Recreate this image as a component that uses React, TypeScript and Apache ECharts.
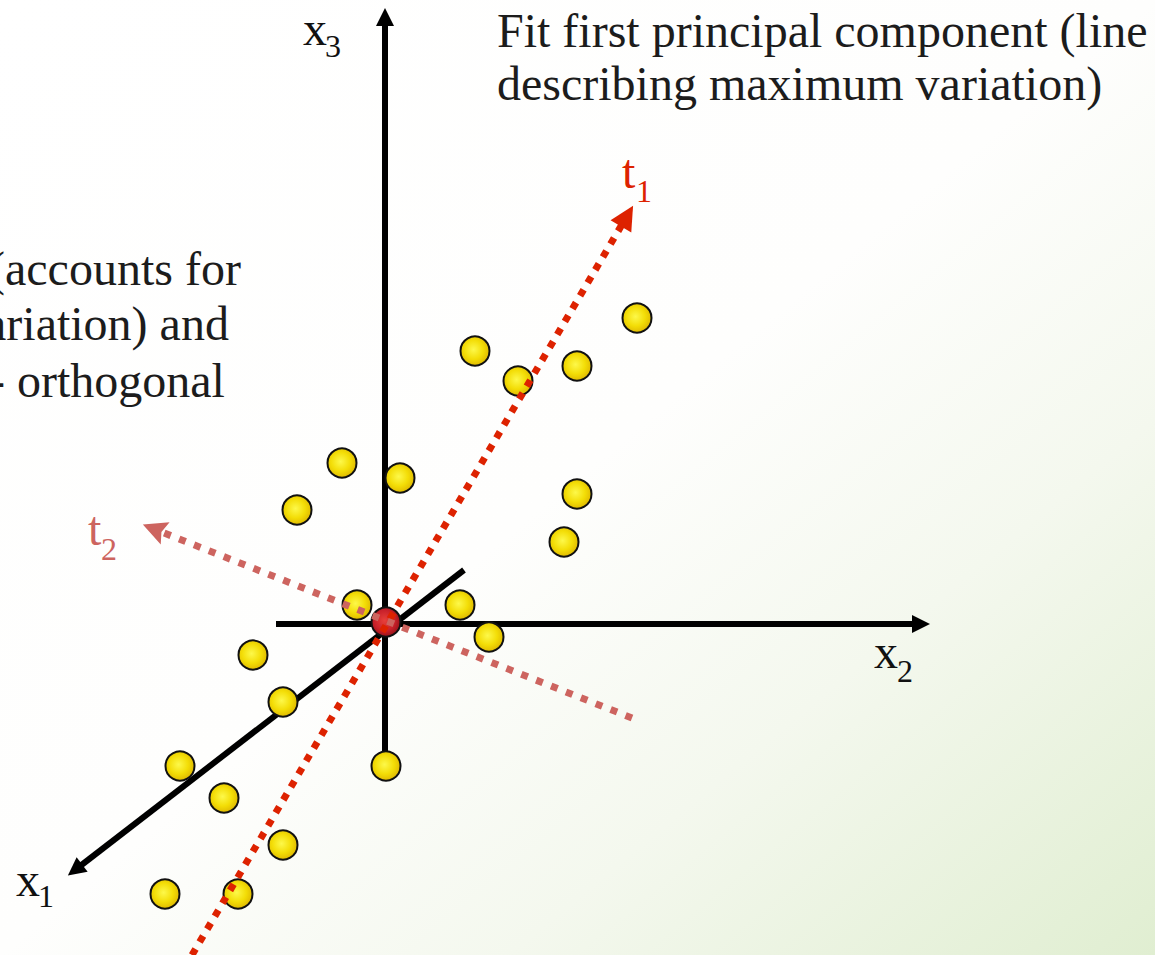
import React, { useEffect, useRef } from "react";
import * as echarts from "echarts";

const W = 1155;
const H = 955;

// observations (diagram coordinates, y grows downward)
const pointsX = [637, 475, 577, 518, 342, 400, 297, 577, 564, 357, 460, 489, 253, 283, 180, 386, 224, 283, 165, 238];
const pointsY = [318, 351, 366, 381, 463, 478, 510, 494, 542, 605, 605, 637, 655, 702, 766, 766, 798, 845, 894, 894];
const centreX = [386];
const centreY = [622];

// original variable axes (x1, x2, x3)
const axisNames = ["x1", "x2", "x3"];
const axisStart = [[464, 570], [276, 624], [385, 760]];
const axisEnd = [[75, 870], [921, 624], [385, 17]];

// principal components (t1, t2)
const pcNames = ["t1", "t2"];
const pcStart = [[192, 955], [632, 718]];
const pcEnd = [[627, 216], [154, 529]];

// texts
const titleLines = ["Fit first principal component (line", "describing maximum variation)"];
const sideLines = ["(accounts for", "variation) and", "- orthogonal"];
const axisLabelMain = ["x", "x", "x"];
const axisLabelSub = ["1", "2", "3"];
const pcLabelMain = ["t", "t"];
const pcLabelSub = ["1", "2"];

const FONT = "'Liberation Serif','Times New Roman',Times,serif";
const CENTRAL = 0.3375;

function txt(text: string, x: number, baseline: number, size: number, fill: string) {
  return {
    type: "text",
    x,
    y: baseline - size * CENTRAL,
    silent: true,
    z: 100,
    style: {
      text,
      fill,
      fontSize: size,
      fontFamily: FONT,
      align: "left",
      verticalAlign: "middle",
    },
  };
}

export default function App() {
  const ref = useRef<HTMLDivElement>(null);

  useEffect(() => {
    if (!ref.current) return;
    const chart = echarts.init(ref.current, null, { renderer: "svg" });

    const yellow = new echarts.graphic.RadialGradient(0.45, 0.45, 0.6, [
      { offset: 0, color: "#fdf84a" },
      { offset: 0.55, color: "#f3dd06" },
      { offset: 1, color: "#dcb300" },
    ]);
    const red = new echarts.graphic.RadialGradient(0.45, 0.45, 0.6, [
      { offset: 0, color: "#e8403a" },
      { offset: 0.6, color: "#c8202a" },
      { offset: 1, color: "#8e1016" },
    ]);
    const bg = new echarts.graphic.LinearGradient(0, 0, 1, 1, [
      { offset: 0, color: "#ffffff" },
      { offset: 0.5, color: "#fefefd" },
      { offset: 0.72, color: "#f4f8ee" },
      { offset: 1, color: "#e0eed1" },
    ]);

    const axisLabelPos = [
      [16, 896, 38, 907],
      [874, 668, 897, 682],
      [303, 45, 325, 57],
    ];
    const pcLabelPos = [
      [622, 188, 636, 202],
      [88, 545, 101, 560],
    ];
    const pcColors = ["#dd2200", "#cd645f"];

    const graphics: any[] = [
      {
        type: "rect",
        z: -100,
        silent: true,
        shape: { x: 0, y: 0, width: W, height: H },
        style: { fill: bg },
      },
      ...titleLines.map((t, i) => txt(t, 497, 47 + i * 53, 48, "#1c1c1c")),
      txt(sideLines[0], -11, 285, 48, "#1c1c1c"),
      txt(sideLines[1], -39, 340, 48, "#1c1c1c"),
      txt(sideLines[2], -11, 397, 48, "#1c1c1c"),
    ];
    axisNames.forEach((_, i) => {
      const p = axisLabelPos[i];
      graphics.push(txt(axisLabelMain[i], p[0], p[1], 48, "#111111"));
      graphics.push(txt(axisLabelSub[i], p[2], p[3], 32, "#111111"));
    });
    pcNames.forEach((_, i) => {
      const p = pcLabelPos[i];
      graphics.push(txt(pcLabelMain[i], p[0], p[1], 48, pcColors[i]));
      graphics.push(txt(pcLabelSub[i], p[2], p[3], 32, pcColors[i]));
    });

    chart.setOption({
      animation: false,
      grid: { left: 0, top: 0, right: 0, bottom: 0, containLabel: false },
      xAxis: { type: "value", min: 0, max: W, show: false },
      yAxis: { type: "value", min: 0, max: H, inverse: true, show: false },
      graphic: { elements: graphics },
      series: [
        {
          name: "axes",
          type: "lines",
          coordinateSystem: "cartesian2d",
          silent: true,
          z: 1,
          symbol: ["none", "triangle"],
          symbolSize: [18, 18],
          lineStyle: { color: "#000000", width: 6, cap: "butt", opacity: 1, curveness: 0 },
          data: axisStart.map((s, i) => ({ name: axisNames[i], coords: [s, axisEnd[i]] })),
        },
        {
          name: "observations",
          type: "scatter",
          silent: true,
          z: 2,
          symbol: "circle",
          symbolSize: 29,
          itemStyle: { color: yellow, borderColor: "#111111", borderWidth: 2, opacity: 1 },
          data: pointsX.map((x, i) => [x, pointsY[i]]),
        },
        {
          name: "centre",
          type: "scatter",
          silent: true,
          z: 3,
          symbol: "circle",
          symbolSize: 29,
          itemStyle: { color: red, borderColor: "#111111", borderWidth: 2, opacity: 1 },
          data: centreX.map((x, i) => [x, centreY[i]]),
        },
        {
          name: "t1",
          type: "lines",
          coordinateSystem: "cartesian2d",
          silent: true,
          z: 4,
          symbol: ["none", "triangle"],
          symbolSize: [24, 24],
          lineStyle: { color: pcColors[0], width: 7, type: [7, 8], cap: "butt", opacity: 1, curveness: 0 },
          data: [{ name: pcNames[0], coords: [pcStart[0], pcEnd[0]] }],
        },
        {
          name: "t2",
          type: "lines",
          coordinateSystem: "cartesian2d",
          silent: true,
          z: 4,
          symbol: ["none", "path://M12 0 L24 24 L12 20 L0 24 Z"],
          symbolSize: [24, 24],
          lineStyle: { color: pcColors[1], width: 7, type: [7, 9], cap: "butt", opacity: 1, curveness: 0 },
          data: [{ name: pcNames[1], coords: [pcStart[1], pcEnd[1]] }],
        },
      ],
    });

    return () => chart.dispose();
  }, []);

  return (
    <div
      ref={ref}
      style={{ position: "absolute", left: 0, top: 0, width: W, height: H }}
    />
  );
}
